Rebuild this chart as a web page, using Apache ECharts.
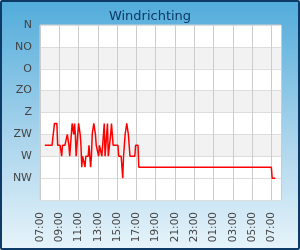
<!DOCTYPE html>
<html><head><meta charset="utf-8">
<script src="https://cdn.jsdelivr.net/npm/echarts@6/dist/echarts.min.js"></script>
<style>
html,body{margin:0;padding:0;background:#fff;}
#c{width:300px;height:250px;box-sizing:border-box;border:2px solid #0d3a66;border-radius:2px;
background:linear-gradient(to bottom,#52acdb 0%,#a9d4ec 55%,#e6f3fa 100%);}
</style></head>
<body><div id="c"></div>
<script>
var titleText = 'Windrichting';
var dirLabels = ['N','NO','O','ZO','Z','ZW','W','NW'];
var times = [
'07:30','07:35','07:40','07:45','07:50','07:55',
'08:00','08:05','08:10','08:15','08:20','08:25','08:30','08:35','08:40','08:45','08:50','08:55',
'09:00','09:05','09:10','09:15','09:20','09:25','09:30','09:35','09:40','09:45','09:50','09:55',
'10:00','10:05','10:10','10:15','10:20','10:25','10:30','10:35','10:40','10:45','10:50','10:55',
'11:00','11:05','11:10','11:15','11:20','11:25','11:30','11:35','11:40','11:45','11:50','11:55',
'12:00','12:05','12:10','12:15','12:20','12:25','12:30','12:35','12:40','12:45','12:50','12:55',
'13:00','13:05','13:10','13:15','13:20','13:25','13:30','13:35','13:40','13:45','13:50','13:55',
'14:00','14:05','14:10','14:15','14:20','14:25','14:30','14:35','14:40','14:45','14:50','14:55',
'15:00','15:05','15:10','15:15','15:20','15:25','15:30','15:35','15:40','15:45','15:50','15:55',
'16:00','16:05','16:10','16:15','16:20','16:25','16:30','16:35','16:40','16:45','16:50','16:55',
'17:00','17:05','17:10','17:15',
'07:00','07:05','07:10','07:15','07:20','07:25'];
var degrees = [
247.5,247.5,247.5,247.5,247.5,247.5,
247.5,247.5,247.5,247.5,247.5,247.5,202.5,202.5,202.5,202.5,247.5,247.5,
247.5,247.5,247.5,270,247.5,247.5,247.5,247.5,247.5,247.5,225,225,
247.5,270,247.5,225,202.5,202.5,225,202.5,225,270,270,225,
202.5,202.5,225,247.5,292.5,270,270,270,292.5,270,270,270,
270,247.5,247.5,292.5,270,225,225,202.5,202.5,225,247.5,247.5,
247.5,270,247.5,247.5,247.5,270,247.5,225,202.5,270,247.5,225,
202.5,270,270,270,225,202.5,225,247.5,247.5,247.5,247.5,247.5,
247.5,247.5,270,270,270,270,292.5,315,270,247.5,225,225,
202.5,202.5,225,247.5,270,270,270,270,270,270,270,247.5,
247.5,247.5,247.5,292.5,
292.5,315,315,315,315,315];

// convert clock times to hours after 07:00 (day rolls over when the clock goes backwards)
var pts = [], day = 0, prev = -1;
for (var i = 0; i < times.length; i++) {
  var p = times[i].split(':'); var h = +p[0] + (+p[1]) / 60;
  if (h < prev) day++; prev = h;
  pts.push([h + day * 24 - 7, degrees[i]]);
}
function pad(n){return (n<10?'0':'')+n;}
var chart = echarts.init(document.getElementById('c'));
chart.setOption({
  animation:false,
  title:{text:titleText,left:'center',top:3,textStyle:{fontFamily:'DejaVu Sans',fontSize:13,fontWeight:'normal',color:'#0d3a66'}},
  grid:{left:38,right:17,top:23,bottom:48,show:true,backgroundColor:'#fff',borderColor:'#d0d0d0',borderWidth:1},
  xAxis:{type:'value',min:0,max:25,interval:2,
    axisLine:{show:false},axisTick:{show:false},
    splitLine:{show:true,lineStyle:{color:'#cccccc',width:1}},
    axisLabel:{rotate:90,margin:12,fontFamily:'DejaVu Sans',fontSize:10.5,color:'#444',showMaxLabel:false,
      formatter:function(v){ if(v>24) return ''; return pad((7+v)%24)+':00';}}
  },
  yAxis:{type:'value',inverse:true,min:0,max:360,interval:45,
    axisLine:{show:false},axisTick:{show:false},
    splitLine:{show:true,lineStyle:{color:'#dddddd',width:1}},
    splitArea:{show:true,areaStyle:{color:['#ffffff','#f2f2f2','#ffffff','#f2f2f2','#ffffff','#f2f2f2','#ffffff','#ffffff']}},
    axisLabel:{margin:8,fontFamily:'DejaVu Sans',fontSize:11,color:'#444',
      formatter:function(v){var k=Math.round(v/45);return k<8?dirLabels[k]:'';}}
  },
  series:[{type:'line',data:pts,showSymbol:false,lineStyle:{color:'#ff0000',width:1.5}}]
});
</script></body></html>
